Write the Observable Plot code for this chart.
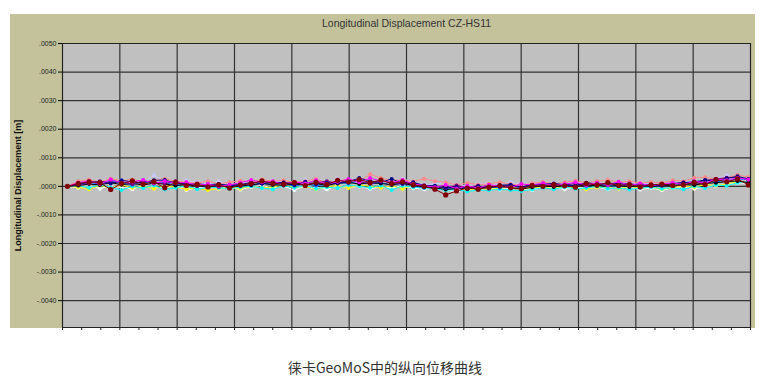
<!DOCTYPE html>
<html>
<head>
<meta charset="utf-8">
<script src="https://cdn.jsdelivr.net/npm/d3@7"></script>
<script src="https://cdn.jsdelivr.net/npm/@observablehq/plot@0.6"></script>
<style>
  body { margin: 0; background: #fff; }
  #wrap { position: relative; width: 770px; height: 340px; }
  #panel { position: absolute; left: 10px; top: 14px; width: 745px; height: 314px; background: #c3c29b; }
  #chart { position: absolute; left: 0; top: 0; }
  #caption { width: 770px; text-align: center; margin-top: 17px; font: 14px "Noto Sans CJK SC", sans-serif; color: #333; line-height: 20px; }
</style>
</head>
<body>
<div id="wrap"><div id="panel"></div><div id="chart"></div></div>
<div id="caption">徕卡GeoMoS中的纵向位移曲线</div>
<script>
const title = "Longitudinal Displacement CZ-HS11";
const yLabel = "Longitudinal Displacement [m]";
const yTicks = [-0.004, -0.003, -0.002, -0.001, 0, 0.001, 0.002, 0.003, 0.004, 0.005];

// Displacement values in units of 0.0001 m, one per measurement epoch
const darkRed = [0, 1.0, 1.6, 1.3, -1.1, 1.0, 1.9, 0.8,
  1.6, -0.5, 1.4, 0.3, 0.6, -0.2, 0.5, -0.6,
  0.5, 1.0, 1.9, 1.1, 0.8, 1.3, 0.3, 1.4,
  0.6, 2.1, 1.6, 2.4, 1.3, 2.2, 1.0, 1.6,
  0.5, 0.0, -1.0, -3.0, -1.6, -0.6, -1.0, -0.3,
  0.2, -0.5, -0.8, 0.3, 0.0, 0.6, 0.2, -0.3,
  1.0, 0.5, 1.3, 0.3, 0.6, -0.2, 0.5, 0.8,
  0.3, 0.5, 1.4, 0.6, 2.4, 1.6, 2.6, 0.5];
const magenta = [0, 1.3, 1.9, 0.8, 2.4, 1.3, 1.6, 2.2,
  1.0, 1.9, 1.1, 1.4, 0.3, 0.8, 0.0, 0.5,
  1.3, 2.2, 1.4, 1.8, 0.6, 1.6, 1.0, 2.1,
  0.8, 1.6, 2.6, 1.4, 2.9, 1.9, 1.3, 2.2,
  0.8, 0.3, -0.3, 0.5, -0.8, 0.2, -0.6, 0.6,
  0.0, -0.3, 0.8, 0.5, 1.1, 0.3, 0.8, 1.4,
  0.5, 1.3, 0.6, 1.6, 0.3, 1.0, 0.2, 0.8,
  1.3, 0.6, 1.8, 1.1, 2.6, 2.1, 3.0, 2.4];
const navy = [0, 0.8, 1.6, 1.4, 1.0, 2.1, 1.6, 1.3,
  2.1, 2.2, 1.1, 1.0, 0.2, 0.6, 0.8, 0.3,
  0.6, 1.4, 1.0, 1.4, 1.3, 0.5, 1.6, 0.8,
  1.3, 1.0, 1.6, 2.9, 1.9, 1.4, 2.6, 1.0,
  1.4, 0.3, 0.2, -0.5, -0.2, -1.0, 0.0, -0.5,
  0.3, 0.6, -0.2, 0.5, 0.8, 1.0, 0.6, 0.2,
  1.3, 0.8, 1.1, 1.0, 0.5, 0.8, 0.3, 0.2,
  1.0, 1.3, 1.6, 2.2, 1.9, 2.8, 3.5, 2.6];
const cyan = [0, 0.3, -0.5, 0.5, -0.3, -1.3, 0.0, -0.6,
  0.3, -1.1, -0.5, 0.2, -1.0, -0.3, -0.5, -0.8,
  -0.3, 0.0, -0.6, -1.0, 0.2, -0.5, 0.3, -0.8,
  -0.3, -0.6, 0.5, 0.0, -0.5, 0.3, -1.3, 0.2,
  -0.3, -0.6, -0.8, -1.4, -1.1, -1.8, -1.3, -1.4,
  -1.0, -1.3, -1.6, -1.1, -0.5, -1.0, -0.3, -0.8,
  -0.6, 0.0, -0.8, -0.5, -1.1, -0.6, -0.3, -0.8,
  -0.5, -1.0, 0.0, -0.6, 0.5, 0.2, 1.3, 1.6];
const yellow = [0, -0.3, -1.0, 0.3, -0.6, 0.5, -0.5, 0.0,
  -0.8, 0.2, -0.3, -1.0, -0.6, -1.3, -0.8, -0.3,
  -0.8, 0.0, -0.5, -0.2, 0.5, -0.3, 0.0, -1.0,
  -0.2, 0.3, -0.6, 0.5, 0.0, -0.5, 0.2, -0.8,
  0.3, -0.5, -0.3, -1.0, -0.5, -1.4, -0.8, -1.1,
  -0.6, -0.3, -1.0, -0.5, -0.2, -0.8, 0.0, -0.6,
  -1.0, -0.3, -0.5, -0.8, 0.0, -0.6, -0.3, -1.0,
  -0.5, 0.2, -0.3, 0.6, 0.3, 0.8, 1.6, 1.3];
const white = [0, -0.5, 0.3, -0.8, 0.2, -0.3, -1.0, 0.3,
  -0.2, -0.6, 0.5, -1.3, -0.5, 0.0, -0.8, -0.3,
  -1.1, -0.2, 0.3, -0.6, 0.0, -1.3, 0.2, -0.5,
  -1.0, 0.3, -0.3, 0.0, -0.8, -0.2, -0.5, 0.2,
  -0.6, -1.0, -0.5, -1.3, -1.9, -1.0, -1.4, -0.6,
  -1.1, -0.5, -0.8, -1.3, 0.0, -0.6, -1.0, -0.3,
  -0.8, -0.2, -1.0, -0.5, -0.3, -1.1, -0.6, -1.4,
  -0.5, 0.0, -0.8, -0.3, 0.3, 0.6, 1.3, 1.0];
const salmon = [0, 1.8, 2.3, 1.5, 2.7, 2.0, 2.4, 1.7,
  2.1, 2.7, 1.8, 1.5, 1.2, 1.8, 0.9, 1.4,
  2.0, 1.5, 2.4, 1.8, 2.1, 1.4, 1.8, 2.6,
  1.2, 2.0, 2.4, 1.8, 4.2, 2.9, 2.0, 2.3,
  1.7, 2.7, 1.8, 1.4, 0.5, 1.2, 0.6, 0.9,
  1.4, 0.8, 0.3, 1.1, 1.5, 0.9, 1.4, 2.0,
  1.2, 1.8, 2.3, 1.4, 1.8, 1.1, 1.5, 1.2,
  2.1, 1.8, 3.0, 3.2, 2.6, 3.0, 4.1, 3.2];
const lavender = [0, 1.2, 2.0, 1.5, 0.9, 2.3, 1.8, 1.4,
  3.9, 1.7, 1.1, 2.1, 1.4, 0.8, 1.8, 0.6,
  1.2, 1.7, 0.8, 2.0, 1.4, 0.9, 2.3, 1.5,
  1.1, 2.6, 1.7, 3.1, 1.4, 2.0, 1.2, 2.6,
  1.5, 0.3, 0.9, 1.4, 0.5, 0.2, 0.8, 1.2,
  0.6, 1.5, 0.5, 0.9, 0.3, 1.2, 0.8, 1.7,
  0.6, 1.4, 0.9, 0.5, 1.5, 0.8, 1.2, 0.3,
  1.1, 1.8, 1.4, 2.3, 2.6, 3.8, 2.8, 2.2];
const purple = [0, 0.6, 1.1, 1.8, 1.3, 1.6, 0.8, 1.9,
  1.4, 1.0, 1.8, 0.6, 1.0, 0.5, 0.2, 0.6,
  0.3, 1.1, 1.6, 1.0, 1.4, 1.1, 0.6, 1.3,
  1.8, 1.1, 2.2, 1.6, 1.0, 1.8, 1.4, 0.8,
  1.1, 0.2, -0.2, -0.6, 0.3, -0.3, 0.2, -0.8,
  0.5, 0.2, -0.3, 0.6, 0.3, 0.8, 0.5, 1.0,
  0.3, 1.1, 0.6, 0.8, 1.0, 0.3, 0.6, 0.5,
  0.8, 1.4, 1.1, 2.1, 2.6, 3.0, 3.2, 2.4];
const blue = [0, 0.5, 1.4, 0.8, 1.8, 1.1, 0.6, 1.6,
  1.0, 1.3, 0.5, 0.8, 0.0, 0.3, -0.3, 0.2,
  0.6, 0.3, 1.1, 0.5, 1.0, 0.2, 0.8, 0.3,
  0.6, 1.4, 1.0, 1.9, 0.8, 1.3, 0.5, 1.0,
  0.2, -0.5, 0.0, -0.8, -0.6, -0.3, -1.1, -0.2,
  -0.5, 0.2, -0.6, 0.3, -0.2, 0.5, 0.0, 0.6,
  0.2, 0.8, 0.3, 0.0, 0.5, -0.3, 0.2, 0.6,
  0.3, 0.8, 1.1, 1.4, 1.6, 2.1, 2.6, 2.4];
const black = [0, 0.3, 0.8, 0.5, 1.3, 0.6, 1.0, 0.5,
  1.1, 0.8, 0.3, 0.6, 0.2, -0.2, 0.3, -0.3,
  0.2, 0.5, 1.0, 0.6, 0.3, 0.8, 0.5, 1.0,
  0.3, 1.1, 1.4, 0.8, 1.3, 1.0, 0.6, 1.1,
  0.3, -0.2, -0.5, -1.1, -0.8, -0.5, -0.6, -0.3,
  0.0, -0.5, -1.0, -0.3, 0.2, -0.2, 0.3, 0.0,
  0.5, 0.2, 0.6, 0.3, -0.2, 0.3, 0.0, 0.5,
  0.2, 0.6, 0.5, 1.0, 1.3, 1.6, 1.9, 1.3];

const seriesNames = ["white", "yellow", "cyan", "lavender", "salmon", "blue", "black", "purple", "navy", "magenta", "darkRed"];
const seriesValues = [white, yellow, cyan, lavender, salmon, blue, black, purple, navy, magenta, darkRed];
const seriesColors = ["#ffffff", "#ffff00", "#00ffff", "#c8c8ff", "#ff8888", "#0066ff", "#000000", "#800080", "#000080", "#ff00ff", "#800000"];

const UNIT = 1e-4;           // values are stored in 0.0001 m
const START = 0.26, STEP = 0.5655; // epoch position on the x scale (36 minor tick units)

const marks = [
  Plot.frame({fill: "#c0c0c0"}),
  Plot.ruleX(d3.range(0, 37, 3), {stroke: "#333", strokeWidth: 1.2}),
  Plot.ruleY(yTicks, {stroke: "#333", strokeWidth: 1.2}),
  Plot.axisX(d3.range(0, 37, 1), {tickSize: 3, tickFormat: () => "", stroke: "#222", label: null}),
  Plot.axisY(yTicks, {
    tickSize: 4, tickPadding: 2, label: null, fontSize: 7, fill: "#222",
    fontFamily: "Liberation Sans",
    tickFormat: d => (d < 0 ? "-" : "") + d3.format(".4f")(Math.abs(d)).replace(/^0/, "")
  })
];
seriesValues.forEach((vals, k) => {
  const color = seriesColors[k];
  const r = seriesNames[k] === "darkRed" ? 2.6 : 2;
  marks.push(Plot.line(vals, {x: (d, i) => START + i * STEP, y: d => d * UNIT, stroke: color, strokeWidth: 1}));
  marks.push(Plot.dot(vals, {x: (d, i) => START + i * STEP, y: d => d * UNIT, fill: color, r}));
});
marks.push(Plot.frame({stroke: "#222", strokeWidth: 1}));
marks.push(Plot.text([title], {frameAnchor: "top", dy: -24, fontSize: 10.5, fill: "#333", fontFamily: "Liberation Sans"}));
marks.push(Plot.text([yLabel], {frameAnchor: "left", textAnchor: "middle", dx: -44, rotate: -90, fontSize: 9, fontWeight: "bold", fill: "#111", fontFamily: "Liberation Sans"}));

const chart = Plot.plot({
  width: 770, height: 340,
  marginLeft: 62, marginRight: 20, marginTop: 43, marginBottom: 13,
  style: {background: "transparent"},
  x: {domain: [0, 36], axis: null},
  y: {domain: [-0.00494, 0.005], axis: null},
  marks
});
document.getElementById("chart").appendChild(chart);
</script>
</body>
</html>
